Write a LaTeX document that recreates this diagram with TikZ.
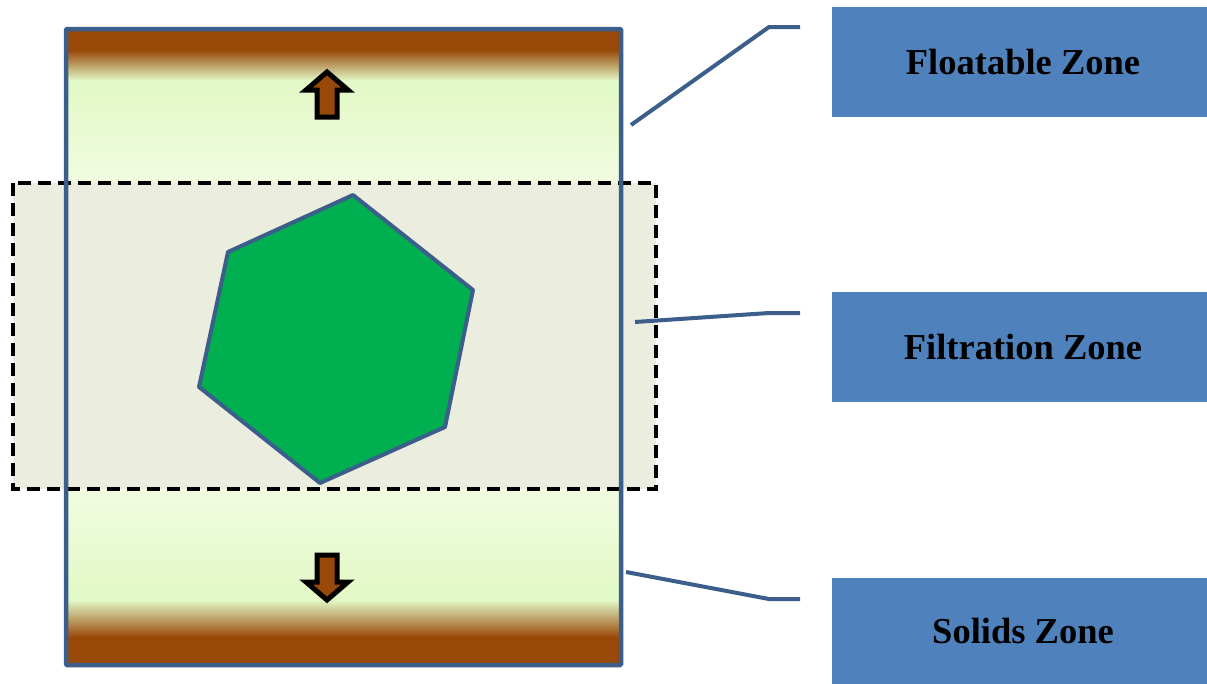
\documentclass[tikz,border=0pt]{standalone}
\usepackage{fontspec}
\setmainfont{Liberation Serif}
\definecolor{soil}{HTML}{984807}
\definecolor{lightg}{HTML}{E2F8C6}
\definecolor{paleg}{HTML}{F1FCE0}
\definecolor{filt}{HTML}{EBEEDE}
\definecolor{hexg}{HTML}{00B050}
\definecolor{edgeblue}{HTML}{3B5E8B}
\definecolor{boxb}{HTML}{4F81BD}
\begin{document}
\begin{tikzpicture}[x=1pt,y=-1pt,
  zonebox/.style={fill=boxb, draw=none, minimum width=375pt, minimum height=110pt, inner sep=0pt,
                  font=\fontsize{36.5}{40}\selectfont\bfseries, text=black},
  zonetext/.style={font=\fontsize{36.5}{40}\selectfont\bfseries, text=black, inner sep=0pt},
  leader/.style={draw=edgeblue, line width=4pt},
  flowarrow/.style={fill=soil, draw=black, line width=5pt, miter limit=10},
  bandfill/.style={draw=none}]
\useasboundingbox (0,0) rectangle (1207,683);
% column fill (gradients)
\fill[soil] (66,29) rectangle (621,50.5);
\shade[bandfill, top color=soil, bottom color=lightg] (66,50) rectangle (621,80.5);
\shade[bandfill, top color=lightg, bottom color=paleg] (66,80) rectangle (621,184);
\shade[bandfill, top color=paleg, bottom color=lightg] (66,488) rectangle (621,600.5);
\shade[bandfill, top color=lightg, bottom color=soil] (66,600) rectangle (621,637.5);
\fill[soil] (66,637) rectangle (621,665);
% filtration zone
\filldraw[fill=filt, draw=black, line width=4pt, dash pattern=on 13pt off 7pt] (13,183) rectangle (656,489);
% column border
\node[draw=edgeblue, line width=4.5pt, rounded corners=1pt, minimum width=555pt, minimum height=636pt, inner sep=0pt] (column) at (343.5,347) {};
% media hexagon
\draw[fill=hexg, draw=edgeblue, line width=4pt, line join=round]
  (353,195) -- (473,290) -- (445,427) -- (320,483) -- (199,387) -- (228,252) -- cycle;
% arrows
\draw[flowarrow] (327,72) -- (348,90) -- (337,90) -- (337,117) -- (317,117) -- (317,90) -- (306,90) -- cycle;
\draw[flowarrow] (327,600) -- (348,582) -- (337,582) -- (337,555) -- (317,555) -- (317,582) -- (306,582) -- cycle;
% zone labels
\node[zonebox] (floatbox) at (1019.5,62) {};
\node[zonebox] (filtbox) at (1019.5,347) {};
\node[zonebox, minimum height=106pt] (solidbox) at (1019.5,631) {};
\node[zonetext] (floattext) at ([xshift=3.5pt]floatbox.center) {Floatable Zone};
\node[zonetext] (filttext) at ([xshift=3.5pt]filtbox.center) {Filtration Zone};
\node[zonetext] (solidtext) at ([xshift=3.5pt]solidbox.center) {Solids Zone};
% leader lines
\coordinate (fa) at (631,125);
\coordinate (fb) at (769,27);
\coordinate (fc) at (800,27);
\coordinate (ta) at (635,322);
\coordinate (tb) at (769,313);
\coordinate (tc) at (800,313);
\coordinate (sa) at (626,572);
\coordinate (sb) at (769,599);
\coordinate (sc) at (800,599);
\draw[leader] (fa) -- (fb) -- (fc);
\draw[leader] (ta) -- (tb) -- (tc);
\draw[leader] (sa) -- (sb) -- (sc);
\end{tikzpicture}
\end{document}
